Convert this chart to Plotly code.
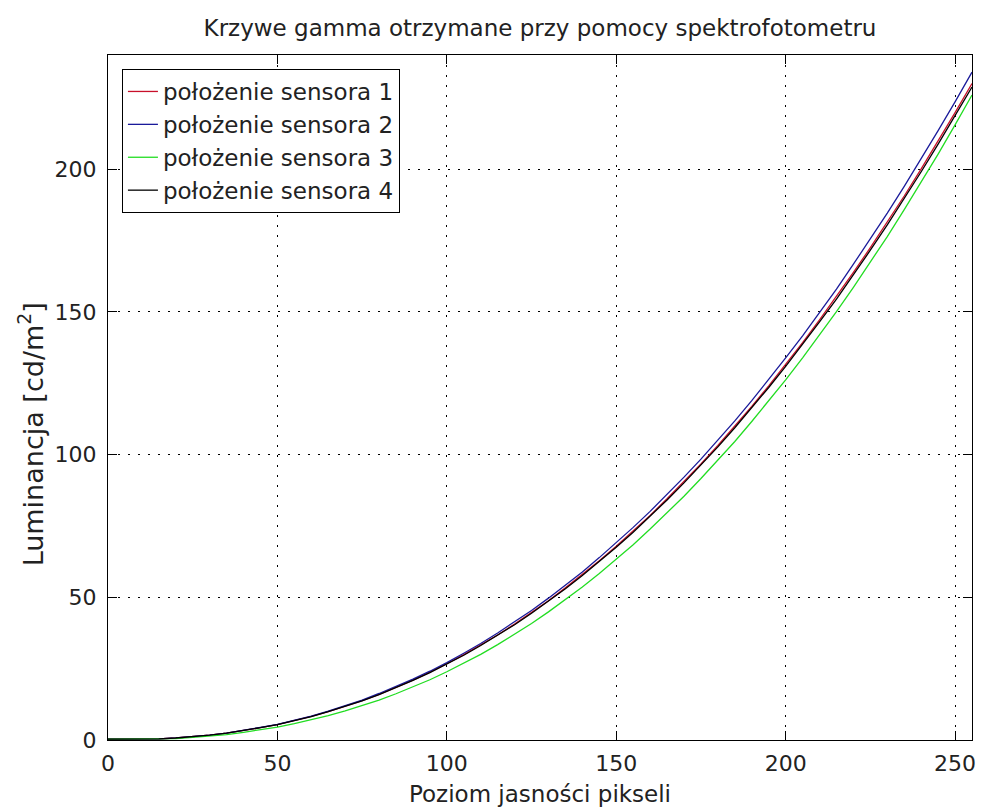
import plotly.graph_objects as go

levels = list(range(0, 255, 5)) + [255]

sensor1 = [0.3, 0.3, 0.3, 0.4, 0.7, 1.1, 1.7, 2.4, 3.3, 4.3, 5.4, 6.8, 8.3, 9.9, 11.8, 13.8,
           16.0, 18.4, 21.0, 23.8, 26.7, 29.9, 33.3, 36.8, 40.6, 44.6, 48.8, 53.3, 57.9, 62.8,
           67.9, 73.2, 78.7, 84.5, 90.5, 96.7, 103.2, 109.9, 116.9, 124.1, 131.6, 139.2, 147.2,
           155.3, 163.8, 172.5, 181.4, 190.6, 200.1, 209.8, 219.8, 230.0]
sensor2 = [0.3, 0.3, 0.3, 0.4, 0.7, 1.1, 1.7, 2.4, 3.3, 4.4, 5.5, 6.9, 8.4, 10.1, 12.0, 14.0,
           16.3, 18.7, 21.3, 24.1, 27.1, 30.4, 33.8, 37.5, 41.3, 45.4, 49.7, 54.2, 58.9, 63.9,
           69.1, 74.5, 80.1, 86.0, 92.1, 98.4, 105.0, 111.8, 118.9, 126.3, 133.9, 141.6, 149.8,
           158.0, 166.7, 175.5, 184.6, 194.0, 203.6, 213.5, 223.6, 234.0]
sensor3 = [0.3, 0.3, 0.3, 0.3, 0.5, 0.9, 1.3, 1.9, 2.7, 3.5, 4.5, 5.7, 7.0, 8.5, 10.2, 12.0,
           14.0, 16.2, 18.6, 21.1, 23.9, 26.9, 30.0, 33.4, 37.0, 40.8, 44.9, 49.1, 53.6, 58.3,
           63.3, 68.4, 73.9, 79.5, 85.4, 91.6, 98.0, 104.6, 111.6, 118.7, 126.2, 133.9, 141.8,
           150.1, 158.6, 167.3, 176.4, 185.8, 195.4, 205.3, 215.5, 226.0]
sensor4 = [0.3, 0.3, 0.3, 0.4, 0.7, 1.1, 1.7, 2.4, 3.3, 4.3, 5.4, 6.8, 8.2, 9.9, 11.7, 13.7,
           15.9, 18.3, 20.9, 23.6, 26.6, 29.7, 33.1, 36.6, 40.4, 44.4, 48.6, 53.0, 57.6, 62.5,
           67.5, 72.8, 78.3, 84.1, 90.1, 96.3, 102.7, 109.4, 116.3, 123.5, 130.9, 138.5, 146.5,
           154.5, 163.0, 171.6, 180.5, 189.7, 199.1, 208.8, 218.7, 228.8]

series_names = ["położenie sensora 1", "położenie sensora 2",
                "położenie sensora 3", "położenie sensora 4"]
series_values = [sensor1, sensor2, sensor3, sensor4]
series_colors = ["#c8102a", "#1a1a9a", "#22dd22", "#000000"]

x_ticks = [0, 50, 100, 150, 200, 250]
y_ticks = [0, 50, 100, 150, 200]

FONT = "DejaVu Sans"
TXT = "#222"
fig = go.Figure()
for name, vals, col in zip(series_names, series_values, series_colors):
    fig.add_trace(go.Scatter(x=levels, y=vals, mode="lines", name=name,
                             line=dict(color=col, width=1.3)))

axis_common = dict(
    showline=True, linecolor="black", linewidth=1, mirror="ticks",
    ticks="inside", ticklen=9, tickcolor="black", tickwidth=1,
    showgrid=True, gridcolor="black", gridwidth=1, griddash="2px,8px",
    zeroline=False, tickfont=dict(family=FONT, size=22, color=TXT),
)

fig.update_layout(
    width=983, height=811,
    margin=dict(l=108, r=7, t=55, b=71),
    paper_bgcolor="white", plot_bgcolor="white",
    font=dict(family=FONT, size=23, color=TXT),
    title=dict(text="Krzywe gamma otrzymane przy pomocy spektrofotometru",
               x=0.5, xref="paper", y=1 - 28 / 811, yref="container",
               yanchor="middle", font=dict(family=FONT, size=23, color=TXT)),
    xaxis=dict(range=[0, 255], tickvals=x_ticks, ticklabelstandoff=4,
               title=dict(text="Poziom jasności pikseli", standoff=10,
                          font=dict(family=FONT, size=23, color=TXT)),
               **axis_common),
    yaxis=dict(range=[0, 240], tickvals=y_ticks, ticklabelstandoff=6,
               **axis_common),
    legend=dict(x=(122 - 108) / 868, y=(740 - 69) / 685, xanchor="left", yanchor="top",
                bordercolor="black", borderwidth=1, bgcolor="white",
                font=dict(family=FONT, size=23, color=TXT),
                entrywidth=300, entrywidthmode="pixels",
                tracegroupgap=0),
    showlegend=True,
    annotations=[dict(text="Luminancja [cd/m<sup>2</sup>]", textangle=-90,
                      xref="paper", yref="paper",
                      x=(30 - 108) / 868, y=(740 - 434) / 685,
                      xanchor="center", yanchor="middle", showarrow=False,
                      font=dict(family=FONT, size=27, color=TXT))],
)

fig.write_html("out.html")
